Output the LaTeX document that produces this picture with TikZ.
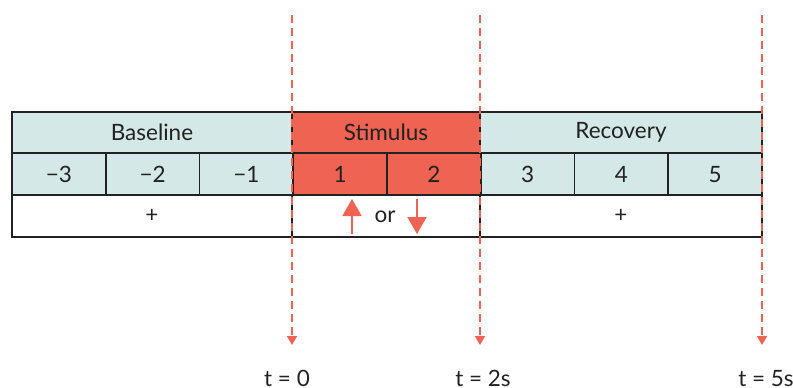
\documentclass[tikz,border=0pt]{standalone}
\usepackage{fontspec}
\setmainfont{Lato}
\usetikzlibrary{arrows.meta}
\definecolor{cellblue}{HTML}{D5E8E8}
\definecolor{stimred}{HTML}{EE6352}
\definecolor{edgeclr}{HTML}{222222}
\definecolor{txtclr}{HTML}{222222}
\begin{document}
\begin{tikzpicture}[x=1pt,y=-1pt,
  cell/.style={draw=edgeclr, line width=1.8pt, minimum height=41.7pt, inner sep=0pt,
    text=txtclr, font=\fontsize{22.5}{24}\selectfont},
  bluecell/.style={cell, fill=cellblue},
  redcell/.style={cell, fill=stimred},
  whitecell/.style={cell, fill=white},
  timeline/.style={draw=stimred, line width=1.8pt, dash pattern=on 8pt off 5pt,
    -{Triangle[width=10pt,length=9pt]}},
  bigarrow/.style={draw=stimred, fill=stimred, line width=1.8pt,
    -{Triangle[width=19pt,length=17pt]}},
  tlabel/.style={text=txtclr, font=\fontsize{22.5}{24}\selectfont, inner sep=0pt}
]
\useasboundingbox (0,0) rectangle (793,388);
% row 1
\node[bluecell, minimum width=280pt] (base) at (152,132.5) {Baseline};
\node[redcell, minimum width=188pt] (stim) at (386,132.5) {Stimulus};
\node[bluecell, minimum width=282pt] (reco) at (621,132.5) {Recovery};
% row 2
\node[bluecell, minimum width=93.75pt] (c1) at (58.875,174.2) {−3};
\node[bluecell, minimum width=93.75pt] (c2) at (152.625,174.2) {−2};
\node[bluecell, minimum width=93.75pt] (c3) at (246.375,174.2) {−1};
\node[redcell, minimum width=93.75pt] (c4) at (340.125,174.2) {1};
\node[redcell, minimum width=93.75pt] (c5) at (433.875,174.2) {2};
\node[bluecell, minimum width=93.75pt] (c6) at (527.625,174.2) {3};
\node[bluecell, minimum width=93.75pt] (c7) at (621.375,174.2) {4};
\node[bluecell, minimum width=93.75pt] (c8) at (715.125,174.2) {5};
% row 3
\node[whitecell, minimum width=280pt] (p1) at (152,215.9) {+};
\node[whitecell, minimum width=188pt] (mid) at (386,215.9) {};
\node[whitecell, minimum width=282pt] (p2) at (621,215.9) {+};
\node[tlabel] (or) at (385,217) {or};
\coordinate (upS) at (352,234);
\coordinate (upE) at (352,199);
\coordinate (dnS) at (417,199);
\coordinate (dnE) at (417,234);
\draw[bigarrow] (upS) -- (upE);
\draw[bigarrow] (dnS) -- (dnE);
% timelines
\coordinate (a0) at (292,15);
\coordinate (b0) at (292,345);
\coordinate (a2) at (480,15);
\coordinate (b2) at (480,345);
\coordinate (a5) at (762,15);
\coordinate (b5) at (762,345);
\draw[timeline] (a0) -- (b0);
\draw[timeline] (a2) -- (b2);
\draw[timeline] (a5) -- (b5);
\node[tlabel, anchor=base] (l0) at (287,386.5) {t = 0};
\node[tlabel, anchor=base] (l2) at (483,386.5) {t = 2s};
\node[tlabel, anchor=base] (l5) at (766,386.5) {t = 5s};
\end{tikzpicture}
\end{document}
